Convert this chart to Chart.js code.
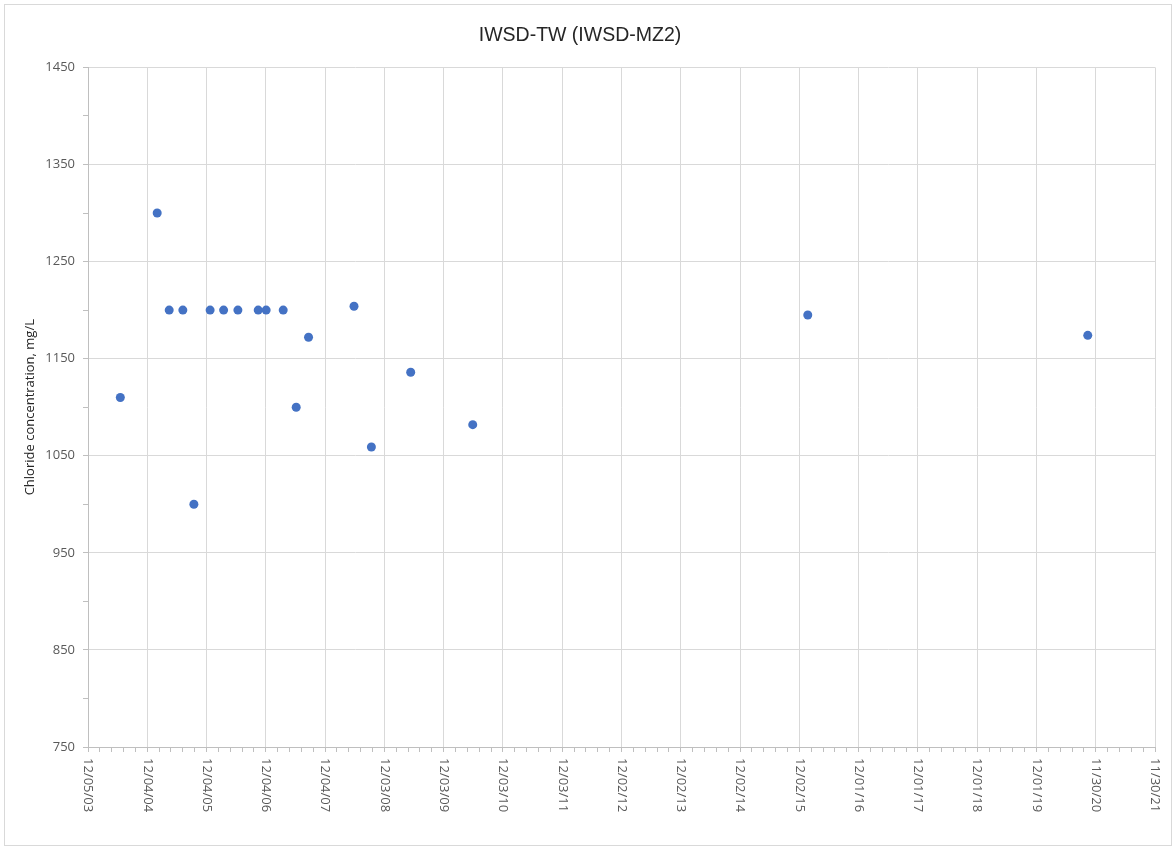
<!DOCTYPE html>
<html>
<head>
<meta charset="utf-8">
<script src="https://cdn.jsdelivr.net/npm/chart.js@4.4.1/dist/chart.umd.min.js"></script>
<style>
  html, body { margin: 0; padding: 0; background: #ffffff; }
  #frame { position: absolute; left: 4px; top: 4px; width: 1166px; height: 840px; border: 1px solid #d9d9d9; }
  #c { display: block; }
</style>
</head>
<body>
<div id="frame"><canvas id="c" width="1166" height="840"></canvas></div>
<script>
// ---- data ----
const baseDate = "2003-12-05";
const sampleDates = [
  "2004-06-21", "2005-02-03", "2005-04-18", "2005-07-11", "2005-09-17",
  "2005-12-26", "2006-03-19", "2006-06-15", "2006-10-18", "2006-12-06",
  "2007-03-21", "2007-06-09", "2007-08-24", "2008-05-30", "2008-09-14",
  "2009-05-14", "2010-05-31", "2016-01-23", "2020-10-12"
];
const chlorideValues = [
  1110, 1300, 1200, 1200, 1000,
  1200, 1200, 1200, 1200, 1200,
  1200, 1100, 1172, 1204, 1059,
  1136, 1082, 1195, 1174
];
const xTickLabels = [
  "12/05/03", "12/04/04", "12/04/05", "12/04/06", "12/04/07", "12/03/08",
  "12/03/09", "12/03/10", "12/03/11", "12/02/12", "12/02/13", "12/02/14",
  "12/02/15", "12/01/16", "12/01/17", "12/01/18", "12/01/19", "11/30/20", "11/30/21"
];
const yMin = 750, yMax = 1450, yMajor = 100, yMinor = 50;
const xMajorDays = 365, xMinorDays = 73;
const chartTitle = "IWSD-TW (IWSD-MZ2)";
const yAxisTitle = "Chloride concentration, mg/L";

// ---- helpers ----
function dayOffset(s) {
  const [y1, m1, d1] = baseDate.split("-").map(Number);
  const [y2, m2, d2] = s.split("-").map(Number);
  return Math.round((Date.UTC(y2, m2 - 1, d2) - Date.UTC(y1, m1 - 1, d1)) / 86400000);
}
const points = sampleDates.map((d, i) => ({ x: dayOffset(d), y: chlorideValues[i] }));
const xMax = (xTickLabels.length - 1) * xMajorDays;

const xLabelPlugin = {
  id: 'xLabels',
  afterDraw(chart) {
    const sc = chart.scales.x;
    const ctx = chart.ctx;
    ctx.save();
    ctx.font = '13px "Open Sans", "Liberation Sans", sans-serif';
    ctx.fillStyle = '#595959';
    ctx.textAlign = 'left';
    ctx.textBaseline = 'middle';
    xTickLabels.forEach((lab, i) => {
      const px = sc.getPixelForValue(i * xMajorDays);
      ctx.save();
      ctx.translate(px, sc.top + 11);
      ctx.rotate(Math.PI / 2);
      ctx.fillText(lab, 0, 0);
      ctx.restore();
    });
    ctx.restore();
  }
};

new Chart(document.getElementById('c'), {
  type: 'scatter',
  data: {
    datasets: [{
      data: points,
      backgroundColor: '#4472C4',
      borderColor: '#4472C4',
      pointRadius: 4.5,
      pointHoverRadius: 4.5,
      borderWidth: 0
    }]
  },
  options: {
    responsive: false,
    animation: false,
    layout: { padding: { top: 0, left: 0, right: 16, bottom: 0 } },
    plugins: {
      legend: { display: false },
      tooltip: { enabled: false },
      title: {
        display: true,
        text: chartTitle,
        color: '#262626',
        font: { family: '"Liberation Sans", Arial, sans-serif', size: 19.5, weight: 'normal' },
        padding: { top: 19, bottom: 20 }
      }
    },
    scales: {
      x: {
        type: 'linear',
        min: 0,
        max: xMax,
        afterBuildTicks(scale) {
          const t = [];
          for (let v = 0; v <= xMax; v += xMinorDays) t.push({ value: v });
          scale.ticks = t;
        },
        afterFit(scale) { scale.height = 98; },
        ticks: { display: false },
        border: { color: '#bfbfbf', width: 1 },
        grid: {
          color: (c) => (c.tick && c.tick.value % xMajorDays === 0) ? '#d9d9d9' : 'rgba(0,0,0,0)',
          tickColor: '#bfbfbf',
          tickLength: 5,
          drawTicks: true
        }
      },
      y: {
        type: 'linear',
        min: yMin,
        max: yMax,
        afterBuildTicks(scale) {
          const t = [];
          for (let v = yMin; v <= yMax; v += yMinor) t.push({ value: v });
          scale.ticks = t;
        },
        afterFit(scale) { scale.width = 83; },
        ticks: {
          autoSkip: false,
          color: '#595959',
          padding: 8,
          font: { family: '"Open Sans", "Liberation Sans", sans-serif', size: 13 },
          callback: (v) => ((v - yMin) % yMajor === 0 ? String(v) : '')
        },
        border: { color: '#bfbfbf', width: 1 },
        grid: {
          color: (c) => (c.tick && (c.tick.value - yMin) % yMajor === 0) ? '#d9d9d9' : 'rgba(0,0,0,0)',
          tickColor: '#bfbfbf',
          tickLength: 5
        },
        title: {
          display: true,
          text: yAxisTitle,
          color: '#262626',
          font: { family: '"Open Sans", "Liberation Sans", sans-serif', size: 13 },
          padding: { top: 17, bottom: 0 }
        }
      }
    }
  },
  plugins: [xLabelPlugin]
});
</script>
</body>
</html>
